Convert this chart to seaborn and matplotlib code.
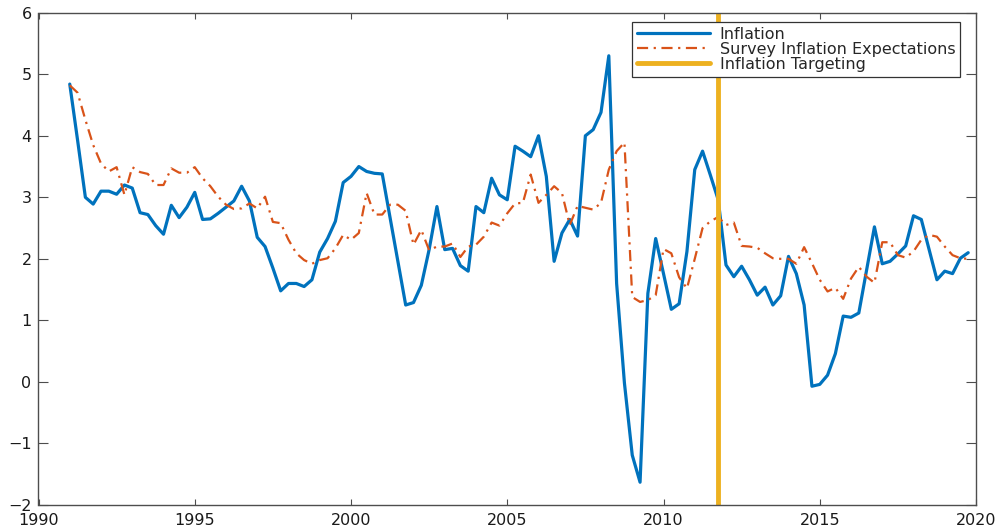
import numpy as np
import pandas as pd
import matplotlib
matplotlib.use("Agg")
import matplotlib.pyplot as plt
import seaborn as sns

# Quarterly series, 1991Q1 - 2019Q4
quarters = pd.period_range("1991Q1", "2019Q4", freq="Q")

inflation = [
    4.84, 3.93, 3.00, 2.89,
    3.10, 3.10, 3.05, 3.20,
    3.15, 2.75, 2.72, 2.54,
    2.40, 2.87, 2.67, 2.84,
    3.08, 2.64, 2.65, 2.74,
    2.84, 2.94, 3.18, 2.94,
    2.35, 2.20, 1.85, 1.48,
    1.60, 1.60, 1.55, 1.66,
    2.11, 2.33, 2.61, 3.24,
    3.34, 3.50, 3.42, 3.39,
    3.38, 2.67, 1.96, 1.25,
    1.29, 1.57, 2.15, 2.85,
    2.15, 2.17, 1.89, 1.80,
    2.85, 2.75, 3.31, 3.04,
    2.96, 3.83, 3.75, 3.66,
    4.00, 3.34, 1.96, 2.42,
    2.64, 2.37, 4.00, 4.10,
    4.38, 5.30, 1.60, -0.02,
    -1.19, -1.63, 1.44, 2.33,
    1.76, 1.18, 1.27, 2.12,
    3.45, 3.75, 3.36, 2.96,
    1.90, 1.71, 1.88, 1.66,
    1.41, 1.54, 1.25, 1.40,
    2.04, 1.76, 1.25, -0.07,
    -0.04, 0.11, 0.46, 1.07,
    1.05, 1.12, 1.82, 2.52,
    1.92, 1.96, 2.08, 2.21,
    2.70, 2.64, 2.15, 1.66,
    1.80, 1.76, 2.01, 2.10,
]

survey_expectations = [
    4.82, 4.70, 4.26, 3.85,
    3.55, 3.42, 3.49, 3.04,
    3.49, 3.41, 3.38, 3.20,
    3.20, 3.47, 3.40, 3.40,
    3.49, 3.31, 3.18, 3.01,
    2.88, 2.81, 2.82, 2.90,
    2.82, 3.01, 2.60, 2.58,
    2.31, 2.09, 1.98, 1.92,
    1.98, 2.01, 2.17, 2.39,
    2.31, 2.42, 3.07, 2.72,
    2.72, 2.88, 2.88, 2.78,
    2.23, 2.47, 2.14, 2.20,
    2.20, 2.25, 2.03, 2.20,
    2.23, 2.36, 2.59, 2.54,
    2.74, 2.90, 2.91, 3.37,
    2.91, 3.04, 3.18, 3.07,
    2.55, 2.86, 2.83, 2.80,
    2.91, 3.45, 3.75, 3.89,
    1.38, 1.30, 1.33, 1.41,
    2.16, 2.09, 1.70, 1.52,
    2.00, 2.50, 2.61, 2.68,
    2.55, 2.59, 2.21, 2.20,
    2.18, 2.09, 2.01, 2.00,
    2.00, 1.92, 2.19, 1.93,
    1.66, 1.47, 1.53, 1.35,
    1.68, 1.87, 1.71, 1.61,
    2.27, 2.27, 2.06, 2.02,
    2.12, 2.31, 2.39, 2.36,
    2.20, 2.06, 2.01, 2.00,
]

targeting_start = 2011.75
x_ticks = [1990, 1995, 2000, 2005, 2010, 2015, 2020]
y_ticks = [-2, -1, 0, 1, 2, 3, 4, 5, 6]

df = pd.DataFrame({
    "year": quarters.year + (quarters.quarter - 1) / 4,
    "inflation": inflation,
    "survey": survey_expectations,
})

sns.set_style("white")
plt.rcParams["font.family"] = ["DejaVu Sans"]

fig = plt.figure(figsize=(10.04, 5.31), dpi=100)
ax = fig.add_axes([38.5 / 1004, 1 - 505 / 531, (976 - 38.5) / 1004, (505 - 12.7) / 531])

sns.lineplot(data=df, x="year", y="inflation", ax=ax, color="#0072BD",
             linewidth=2.3, label="Inflation")
sns.lineplot(data=df, x="year", y="survey", ax=ax, color="#D95319",
             linewidth=1.6, linestyle=(0, (5, 2.5, 1, 2.5)),
             label="Survey Inflation Expectations")
ax.axvline(targeting_start, color="#EDB120", linewidth=3.5,
           label="Inflation Targeting")

ax.set_xlim(1990, 2020)
ax.set_ylim(-2, 6)
ax.set_xticks(x_ticks)
ax.set_yticks(y_ticks)
ax.set_xlabel("")
ax.set_ylabel("")

for side in ["left", "right", "top", "bottom"]:
    ax.spines[side].set_visible(True)
    ax.spines[side].set_color("#4d4d4d")
    ax.spines[side].set_linewidth(1.0)

ax.tick_params(axis="x", direction="in", length=4.5, width=0.8, color="#4d4d4d",
               top=True, bottom=True, labelsize=11.5, labelcolor="#1a1a1a", pad=5.5)
ax.tick_params(axis="y", direction="in", length=7, width=0.8, color="#4d4d4d",
               left=True, right=True, labelsize=11.5, labelcolor="#1a1a1a", pad=5)

leg = ax.legend(loc="upper right", bbox_to_anchor=(960 / 1004, 1 - 22 / 531),
                bbox_transform=fig.transFigure, fontsize=11.5, frameon=True,
                fancybox=False, framealpha=1, edgecolor="#333333",
                handlelength=4.6, labelspacing=0.0, borderpad=0.3,
                handletextpad=0.6, borderaxespad=0)
leg.get_frame().set_linewidth(0.9)

fig.savefig("out.png", dpi=100)
